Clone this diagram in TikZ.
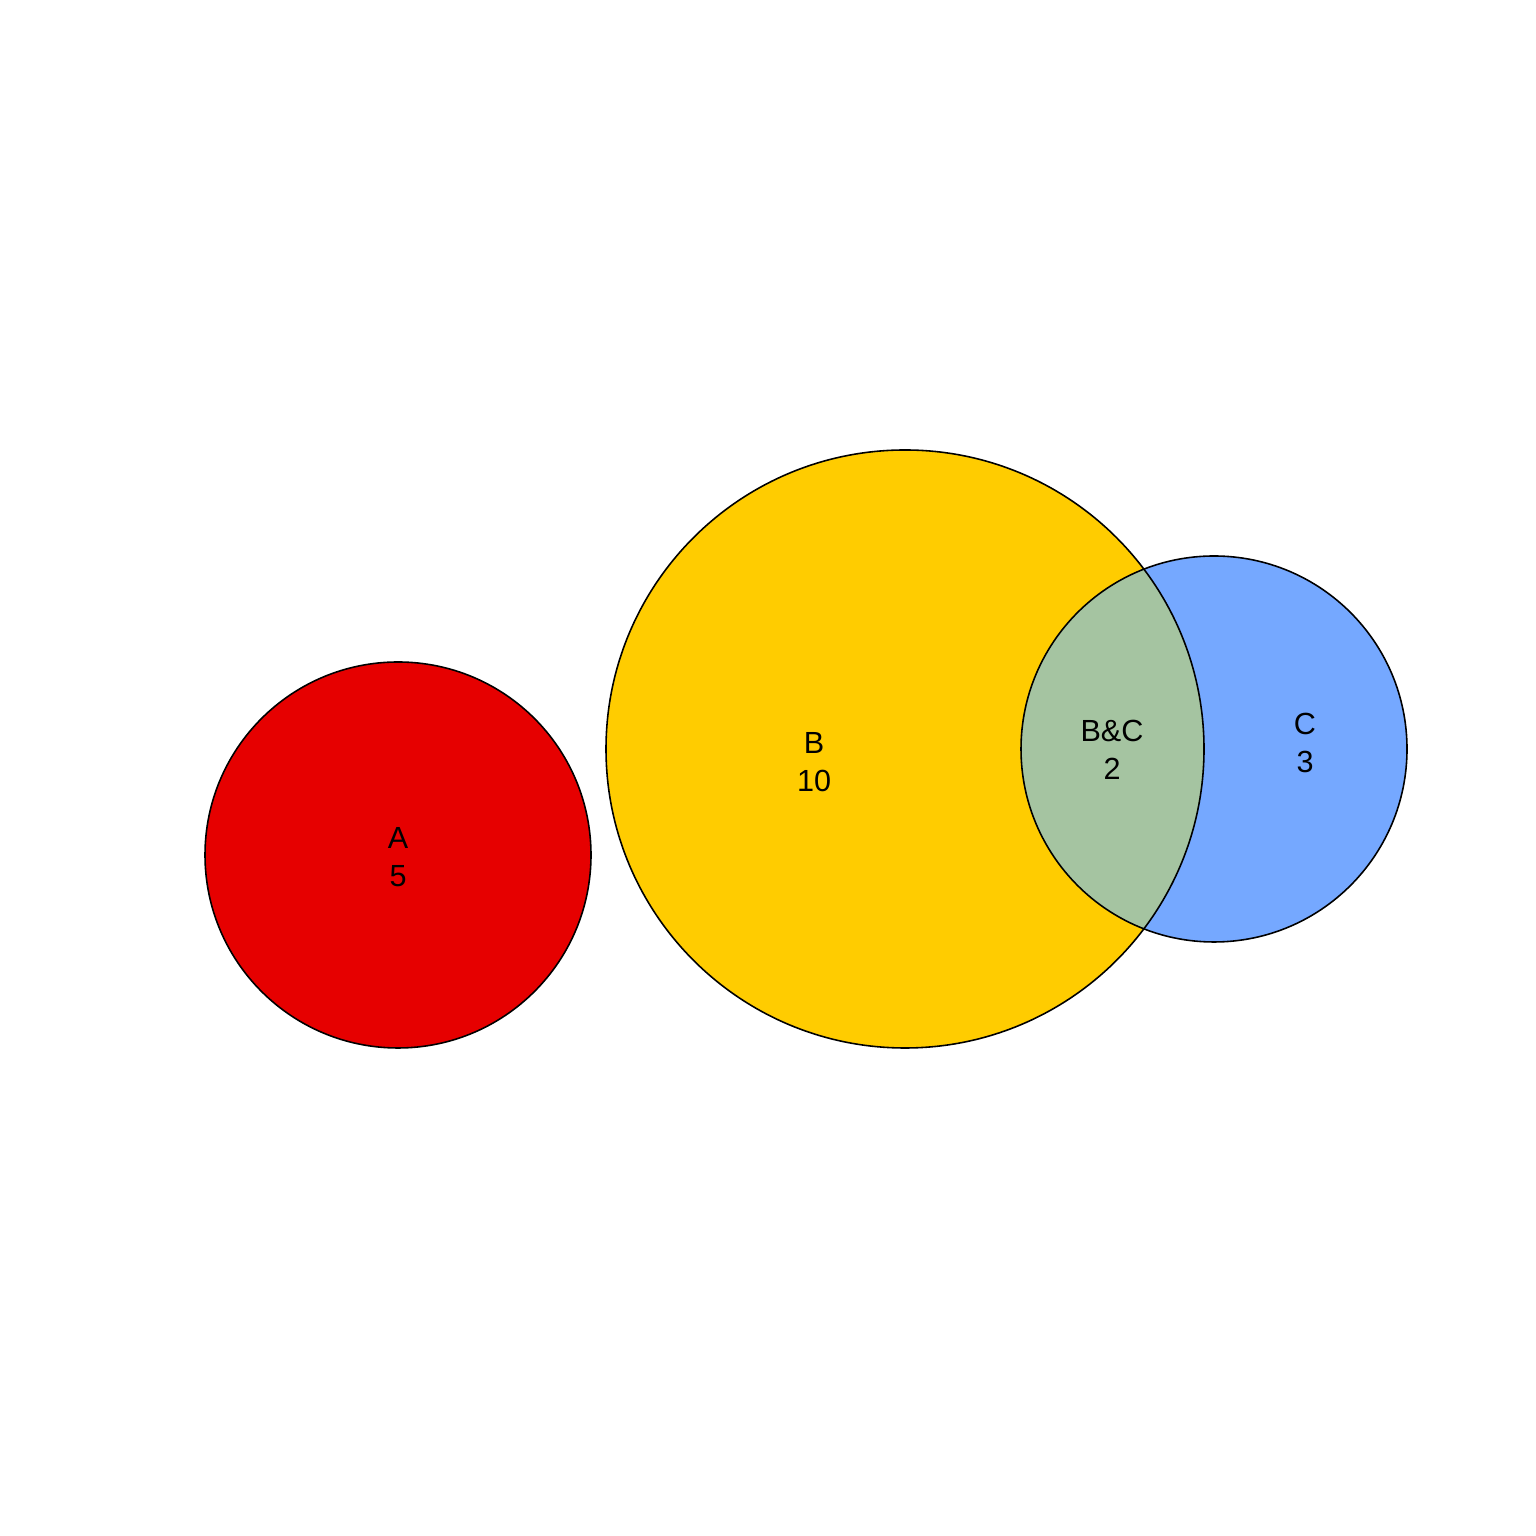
\documentclass[tikz,border=0pt]{standalone}
\usepackage{fontspec}
\setmainfont{Liberation Sans}
\definecolor{setA}{RGB}{230,0,0}
\definecolor{setB}{RGB}{255,204,0}
\definecolor{setC}{RGB}{117,168,255}
\definecolor{setBC}{RGB}{165,196,161}
\tikzset{
  setline/.style={draw=black, line width=0.45pt},
  setlabel/.style={align=center, font=\fontsize{8.7}{11}\selectfont, inner sep=0pt}
}
\begin{document}
\begin{tikzpicture}
\useasboundingbox (0,0) rectangle (15.36,15.36);
% sets
\fill[setA] (3.98,6.81) circle (1.93);
\fill[setB] (9.05,7.87) circle (2.99);
\fill[setC] (12.14,7.87) circle (1.93);
\begin{scope}
\clip (9.05,7.87) circle (2.99);
\fill[setBC] (12.14,7.87) circle (1.93);
\end{scope}
\draw[setline] (3.98,6.81) circle (1.93);
\draw[setline] (9.05,7.87) circle (2.99);
\draw[setline] (12.14,7.87) circle (1.93);
% labels
\node[setlabel] (labA) at (3.98,6.79) {A\\5};
\node[setlabel] (labB) at (8.14,7.74) {B\\10};
\node[setlabel] (labBC) at (11.12,7.86) {B\&C\\2};
\node[setlabel] (labC) at (13.05,7.93) {C\\3};
\end{tikzpicture}
\end{document}
